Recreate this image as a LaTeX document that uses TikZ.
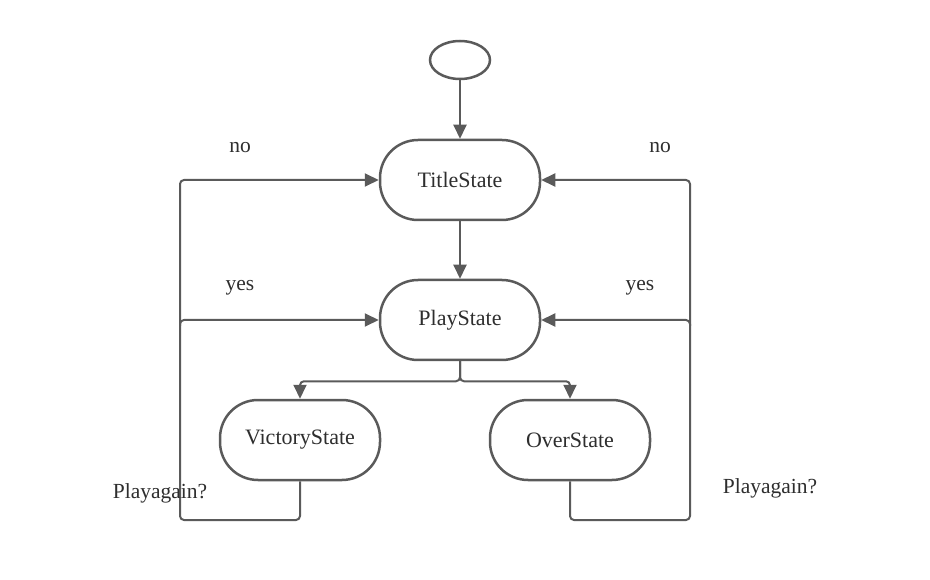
\documentclass[tikz,border=0pt]{standalone}
\usepackage{fontspec}
\setmainfont{Liberation Serif}
\usepackage{xcolor}
\usetikzlibrary{positioning,shapes,arrows.meta}

\definecolor{linegray}{HTML}{5A5A5A}
\definecolor{textgray}{HTML}{2E2E2E}

\tikzset{
  statebox/.style={draw=linegray, line width=2.5pt, rectangle, rounded corners=38pt,
    minimum width=160pt, minimum height=80pt, text=textgray, font=\fontsize{22}{26}\selectfont},
  conn/.style={draw=linegray, line width=2pt, rounded corners=4pt,
    -{Triangle[length=14pt,width=13pt]}},
  lbl/.style={text=textgray, font=\fontsize{21.5}{26}\selectfont}
}

\begin{document}
\begin{tikzpicture}[x=1pt, y=-1pt]
\useasboundingbox (0,0) rectangle (930,580);

% States
\node[draw=linegray, line width=2.5pt, ellipse, minimum width=60pt, minimum height=38pt, inner sep=0pt] (start) at (460,60) {};
\node[statebox] (title) at (460,180) {TitleState};
\node[statebox] (play) at (460,320) {PlayState};
\node[statebox] (victory) at (300,440) {VictoryState};
\node[statebox] (over) at (570,440) {OverState};

% Loop corners
\coordinate (lbot) at (180,520);
\coordinate (rbot) at (690,520);
\coordinate (lmid) at (180,320);
\coordinate (rmid) at (690,320);

% Main flow
\draw[conn] (start) -- (title);
\draw[conn] (title) -- (play);
\draw[conn] (play.south) -- ++(0,20) -| (victory.north);
\draw[conn] (play.south) -- ++(0,20) -| (over.north);

% Play again loops
\draw[conn] (victory.south) |- (lbot) |- (title.west);
\draw[conn] (lmid) ++(0,6) -- ++(0,-6) -- (play.west);
\draw[conn] (over.south) |- (rbot) |- (title.east);
\draw[conn] (rmid) ++(0,6) -- ++(0,-6) -- (play.east);

% Labels
\node[lbl] (nol) at (240,148) {no};
\node[lbl] (yesl) at (240,288) {yes};
\node[lbl] (againl) at (160,493) {Playagain?};
\node[lbl] (nor) at (660,148) {no};
\node[lbl] (yesr) at (640,288) {yes};
\node[lbl] (againr) at (770,488) {Playagain?};
\end{tikzpicture}
\end{document}
